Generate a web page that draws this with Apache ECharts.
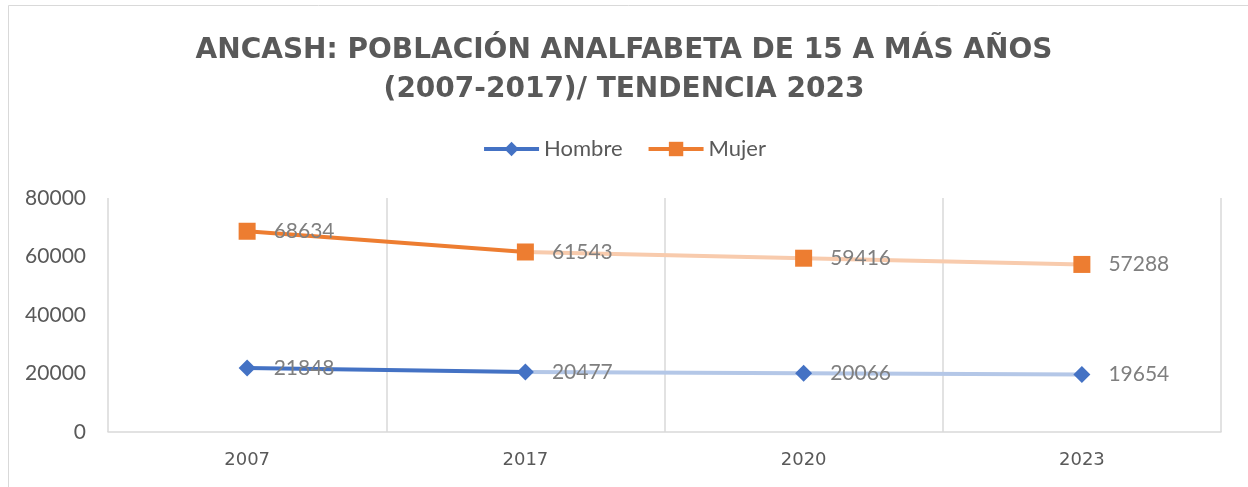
<!DOCTYPE html>
<html>
<head>
<meta charset="utf-8">
<script src="https://cdn.jsdelivr.net/npm/echarts@6/dist/echarts.min.js"></script>
<style>
  html, body { margin: 0; padding: 0; background: #fff; }
  #chart { width: 1248px; height: 487px; }
</style>
</head>
<body>
<div id="chart"></div>
<script>
// datos
var anios = ['2007', '2017', '2020', '2023'];
var hombre = [21848, 20477, 20066, 19654];
var mujer = [68634, 61543, 59416, 57288];
var yTicks = [0, 20000, 40000, 60000, 80000];

var azul = '#4472C4', azulClaro = '#B4C7E7';
var naranja = '#ED7D31', naranjaClaro = '#F8CBAD';

// tramo real 2007-2017 (solo los dos primeros puntos)
function tramoReal(vals) {
    return vals.map(function (v, i) { return i <= 1 ? v : '-'; });
}
// tendencia 2017-2023
function tramoTendencia(vals) {
    return vals.map(function (v, i) {
        if (i === 0) return '-';
        if (i === 1) return { value: v, symbolSize: 0, label: { show: false } };
        return v;
    });
}

var labelBase = {
    show: true,
    position: 'right',
    distance: 18,
    color: '#7F7F7F',
    fontFamily: 'Lato',
    fontSize: 21
};

var chart = echarts.init(document.getElementById('chart'));

var option = {
    backgroundColor: '#fff',
    graphic: [{
        type: 'rect',
        shape: { x: 8.5, y: 5.5, width: 1260, height: 500 },
        style: { fill: 'none', stroke: '#D9D9D9', lineWidth: 1 },
        silent: true
    }],
    title: {
        text: 'ANCASH: POBLACIÓN ANALFABETA DE 15 A MÁS AÑOS\n(2007-2017)/ TENDENCIA 2023',
        left: 'center',
        top: 26,
        textStyle: {
            color: '#595959',
            fontFamily: 'DejaVu Sans',
            fontWeight: 'bold',
            fontSize: 28,
            lineHeight: 39
        }
    },
    legend: {
        data: ['Hombre', 'Mujer'],
        top: 133,
        left: 'center',
        itemWidth: 55,
        itemHeight: 18,
        itemGap: 24,
        lineStyle: { width: 4 },
        textStyle: { color: '#595959', fontFamily: 'Lato', fontSize: 22 }
    },
    grid: { left: 108, right: 27, top: 198, bottom: 55 },
    xAxis: {
        type: 'category',
        data: anios,
        boundaryGap: true,
        axisLine: { lineStyle: { color: '#D9D9D9', width: 1.5 } },
        axisTick: { show: false },
        axisLabel: {
            color: '#595959',
            fontFamily: 'DejaVu Sans',
            fontSize: 18,
            margin: 19
        },
        splitLine: { show: true, lineStyle: { color: '#D9D9D9', width: 1.5 } }
    },
    yAxis: {
        type: 'value',
        min: yTicks[0],
        max: yTicks[yTicks.length - 1],
        interval: 20000,
        axisLine: { show: false },
        axisTick: { show: false },
        splitLine: { show: false },
        axisLabel: {
            color: '#595959',
            fontFamily: 'Lato',
            fontSize: 21,
            margin: 22,
            formatter: function (v) { return String(v); }
        }
    },
    series: [
        {
            name: 'Hombre tendencia',
            type: 'line',
            data: tramoTendencia(hombre),
            symbol: 'diamond',
            symbolSize: 17,
            z: 2,
            itemStyle: { color: azul },
            lineStyle: { color: azulClaro, width: 4 },
            label: labelBase
        },
        {
            name: 'Mujer tendencia',
            type: 'line',
            data: tramoTendencia(mujer),
            symbol: 'rect',
            symbolSize: 17,
            z: 2,
            itemStyle: { color: naranja },
            lineStyle: { color: naranjaClaro, width: 4 },
            label: labelBase
        },
        {
            name: 'Hombre',
            type: 'line',
            data: tramoReal(hombre),
            symbol: 'diamond',
            symbolSize: 17,
            z: 3,
            itemStyle: { color: azul },
            lineStyle: { color: azul, width: 4 },
            label: labelBase
        },
        {
            name: 'Mujer',
            type: 'line',
            data: tramoReal(mujer),
            symbol: 'rect',
            symbolSize: 17,
            z: 3,
            itemStyle: { color: naranja },
            lineStyle: { color: naranja, width: 4 },
            label: labelBase
        }
    ]
};

chart.setOption(option);
</script>
</body>
</html>
